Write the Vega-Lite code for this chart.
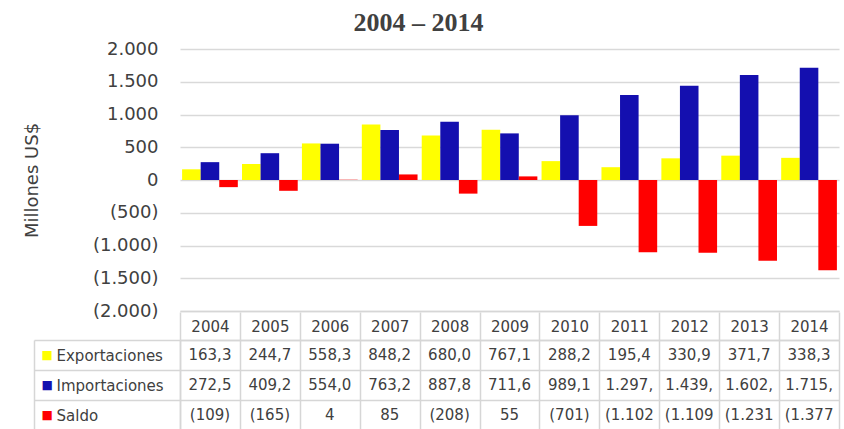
{
  "$schema": "https://vega.github.io/schema/vega-lite/v6.json",
  "padding": {"left": 23, "top": 10, "right": 2, "bottom": 0},
  "background": "white",
  "title": {"text": "2004 – 2014", "font": "Liberation Serif", "fontSize": 26, "fontWeight": "bold", "color": "#404040", "anchor": "middle", "offset": 4, "dx": -13},
  "datasets": {
    "t": [
      {"year": "2004", "serie": "Exportaciones", "value": 163.3, "label": "163,3"},
      {"year": "2005", "serie": "Exportaciones", "value": 244.7, "label": "244,7"},
      {"year": "2006", "serie": "Exportaciones", "value": 558.3, "label": "558,3"},
      {"year": "2007", "serie": "Exportaciones", "value": 848.2, "label": "848,2"},
      {"year": "2008", "serie": "Exportaciones", "value": 680.0, "label": "680,0"},
      {"year": "2009", "serie": "Exportaciones", "value": 767.1, "label": "767,1"},
      {"year": "2010", "serie": "Exportaciones", "value": 288.2, "label": "288,2"},
      {"year": "2011", "serie": "Exportaciones", "value": 195.4, "label": "195,4"},
      {"year": "2012", "serie": "Exportaciones", "value": 330.9, "label": "330,9"},
      {"year": "2013", "serie": "Exportaciones", "value": 371.7, "label": "371,7"},
      {"year": "2014", "serie": "Exportaciones", "value": 338.3, "label": "338,3"},
      {"year": "2004", "serie": "Importaciones", "value": 272.5, "label": "272,5"},
      {"year": "2005", "serie": "Importaciones", "value": 409.2, "label": "409,2"},
      {"year": "2006", "serie": "Importaciones", "value": 554.0, "label": "554,0"},
      {"year": "2007", "serie": "Importaciones", "value": 763.2, "label": "763,2"},
      {"year": "2008", "serie": "Importaciones", "value": 887.8, "label": "887,8"},
      {"year": "2009", "serie": "Importaciones", "value": 711.6, "label": "711,6"},
      {"year": "2010", "serie": "Importaciones", "value": 989.1, "label": "989,1"},
      {"year": "2011", "serie": "Importaciones", "value": 1297, "label": "1.297,"},
      {"year": "2012", "serie": "Importaciones", "value": 1439, "label": "1.439,"},
      {"year": "2013", "serie": "Importaciones", "value": 1602, "label": "1.602,"},
      {"year": "2014", "serie": "Importaciones", "value": 1715, "label": "1.715,"},
      {"year": "2004", "serie": "Saldo", "value": -109, "label": "(109)"},
      {"year": "2005", "serie": "Saldo", "value": -165, "label": "(165)"},
      {"year": "2006", "serie": "Saldo", "value": 4, "label": "4"},
      {"year": "2007", "serie": "Saldo", "value": 85, "label": "85"},
      {"year": "2008", "serie": "Saldo", "value": -208, "label": "(208)"},
      {"year": "2009", "serie": "Saldo", "value": 55, "label": "55"},
      {"year": "2010", "serie": "Saldo", "value": -701, "label": "(701)"},
      {"year": "2011", "serie": "Saldo", "value": -1102, "label": "(1.102"},
      {"year": "2012", "serie": "Saldo", "value": -1109, "label": "(1.109"},
      {"year": "2013", "serie": "Saldo", "value": -1231, "label": "(1.231"},
      {"year": "2014", "serie": "Saldo", "value": -1377, "label": "(1.377"}
    ]
  },
  "spacing": 29,
  "bounds": "flush",
  "vconcat": [
    {
      "width": 659,
      "height": 262,
      "data": {"name": "t"},
      "mark": {"type": "bar"},
      "encoding": {
        "x": {"field": "year", "type": "nominal", "scale": {"paddingInner": 0.07, "paddingOuter": 0.035},
          "axis": {"title": null, "labels": false, "ticks": false, "domain": true, "domainColor": "#d6d6d6", "domainWidth": 1.5}},
        "xOffset": {"field": "serie", "type": "nominal", "scale": {"domain": ["Exportaciones", "Importaciones", "Saldo"], "paddingInner": 0, "paddingOuter": 0}},
        "y": {"field": "value", "type": "quantitative", "scale": {"domain": [-2000, 2000], "nice": false},
          "axis": {"values": [-2000, -1500, -1000, -500, 0, 500, 1000, 1500, 2000],
            "labelExpr": "(datum.value < 0 ? '(' : '') + replace(format(abs(datum.value), ','), ',', '.') + (datum.value < 0 ? ')' : '')",
            "title": "Millones US$", "titleFont": "DejaVu Sans", "titleFontSize": 18, "titleFontWeight": "normal", "titleColor": "#404040", "titlePadding": 51,
            "labelFont": "DejaVu Sans", "labelFontSize": 18, "labelColor": "#404040", "labelPadding": 22,
            "ticks": false, "domain": false, "grid": true, "gridColor": "#d9d9d9", "gridWidth": 1.5}},
        "color": {"field": "serie", "type": "nominal", "scale": {"domain": ["Exportaciones", "Importaciones", "Saldo"], "range": ["#ffff00", "#140faf", "#ff0000"]}, "legend": null}
      }
    },
    {
      "width": 659,
      "height": 90,
      "data": {"name": "t"},
      "encoding": {
        "x": {"field": "year", "type": "nominal", "scale": {"paddingInner": 0, "paddingOuter": 0},
          "axis": {"orient": "top", "title": null, "ticks": true, "tickBand": "extent", "tickSize": 28, "tickColor": "#d6d6d6", "tickWidth": 1.5,
            "grid": true, "gridColor": "#d6d6d6", "gridWidth": 1.5, "domainColor": "#d6d6d6", "domainWidth": 1.5,
            "labelFont": "DejaVu Sans", "labelFontSize": 15, "labelColor": "#404040", "labelPadding": -14, "labelBaseline": "middle", "labelAngle": 0}}
      },
      "layer": [
        {
          "mark": {"type": "text", "font": "DejaVu Sans", "fontSize": 15, "color": "#404040"},
          "encoding": {
            "y": {"field": "serie", "type": "nominal", "scale": {"domain": ["Exportaciones", "Importaciones", "Saldo"], "paddingInner": 0, "paddingOuter": 0},
              "axis": {"title": null, "orient": "left", "ticks": true, "tickBand": "extent", "tickSize": 146, "tickColor": "#d6d6d6", "tickWidth": 1.5,
                "grid": true, "gridColor": "#d6d6d6", "gridWidth": 1.5, "domainColor": "#d6d6d6", "domainWidth": 1.5,
                "labelAlign": "left", "labelPadding": -22, "labelFont": "DejaVu Sans", "labelFontSize": 15, "labelColor": "#404040", "labelBaseline": "middle"}},
            "text": {"field": "label"}
          }
        },
        {
          "mark": {"type": "text", "opacity": 0},
          "encoding": {
            "y": {"field": "serie", "type": "nominal",
              "axis": {"title": null, "orient": "left", "offset": 146, "ticks": false, "tickSize": 0, "grid": false,
                "domainColor": "#d6d6d6", "domainWidth": 1.5, "labelExpr": "'■'", "labelAlign": "left", "labelPadding": -7,
                "labelFont": "DejaVu Sans", "labelFontSize": 12, "labelBaseline": "middle",
                "labelColor": {"condition": [{"test": "datum.value === 'Exportaciones'", "value": "#ffff00"}, {"test": "datum.value === 'Importaciones'", "value": "#140faf"}], "value": "#ff0000"}}},
            "text": {"value": ""}
          }
        }
      ],
      "resolve": {"axis": {"y": "independent"}}
    }
  ],
  "config": {"view": {"stroke": null}}
}
